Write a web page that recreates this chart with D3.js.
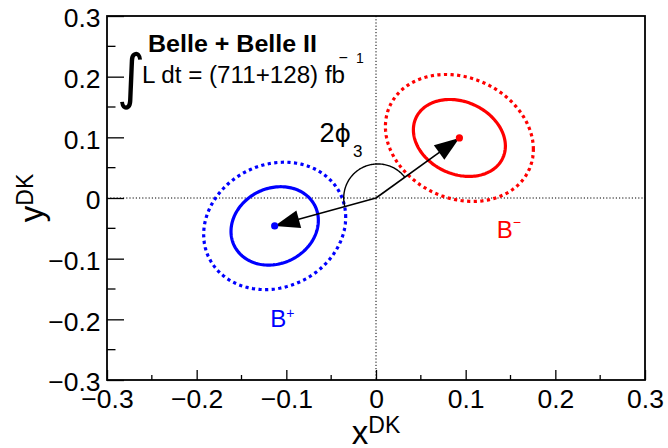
<!DOCTYPE html>
<html><head><meta charset="utf-8">
<script src="https://cdn.jsdelivr.net/npm/d3@7"></script>
<style>body{margin:0;background:#fff} svg{display:block}</style>
</head><body>
<script>
// ---- data ----
const xTickValues = [-0.3, -0.2, -0.1, 0, 0.1, 0.2, 0.3];
const yTickValues = [-0.3, -0.2, -0.1, 0, 0.1, 0.2, 0.3];
const groupNames = ["B+", "B\u2212"];
const centerX = [-0.113, 0.093];
const centerY = [-0.046, 0.099];
const groupColors = ["#0000ff", "#ff0000"];
// 1 sigma contours
const sig1X = [0.0487, 0.0513];
const sig1Y = [0.0646, 0.0634];
const rho1 = [0.14, -0.21];
// 2 sigma contours
const sig2X = [0.0792, 0.0825];
const sig2Y = [0.105, 0.1046];
const rho2 = [0.135, -0.18];

// ---- layout ----
const W = 668, H = 448;
const L = 107, R = 645, T = 16, B = 380;
const FONT = "'Liberation Sans', Arial, Helvetica, sans-serif";

const svg = d3.select("body").append("svg").attr("width", W).attr("height", H)
  .style("font-family", FONT);

const x = d3.scaleLinear().domain([-0.3, 0.3]).range([L, R]);
const y = d3.scaleLinear().domain([-0.3, 0.3]).range([B, T]);
const fmt = v => (v < 0 ? "\u2212" : "") + (v === 0 ? "0" : Math.abs(v).toFixed(1));

// minor ticks
const minorX = x.ticks(12).filter(v => !xTickValues.some(t => Math.abs(t - v) < 1e-9));
const minorY = y.ticks(12).filter(v => !yTickValues.some(t => Math.abs(t - v) < 1e-9));

// axes
const gx = svg.append("g").attr("transform", `translate(0,${B})`)
  .call(d3.axisBottom(x).tickValues(xTickValues).tickSize(-10).tickPadding(9).tickFormat(fmt));
gx.select(".domain").remove();
gx.selectAll("line").attr("stroke", "#000").attr("stroke-width", 1.3);
gx.selectAll("text").attr("font-size", 26.5).attr("font-family", FONT).attr("fill", "#000");
svg.append("g").selectAll("line").data(minorX).join("line")
  .attr("x1", d => x(d)).attr("x2", d => x(d)).attr("y1", B).attr("y2", B - 5)
  .attr("stroke", "#000").attr("stroke-width", 1.3);

const gy = svg.append("g").attr("transform", `translate(${L},0)`)
  .call(d3.axisLeft(y).tickValues(yTickValues).tickSize(-17).tickPadding(6.5).tickFormat(fmt));
gy.select(".domain").remove();
gy.selectAll("line").attr("stroke", "#000").attr("stroke-width", 1.3);
gy.selectAll("text").attr("font-size", 26.5).attr("font-family", FONT).attr("fill", "#000").attr("dy", "0.41em");
svg.append("g").selectAll("line").data(minorY).join("line")
  .attr("y1", d => y(d)).attr("y2", d => y(d)).attr("x1", L).attr("x2", L + 8.5)
  .attr("stroke", "#000").attr("stroke-width", 1.3);

// zero lines
svg.append("line").attr("x1", x(0)).attr("x2", x(0)).attr("y1", T).attr("y2", B)
  .attr("stroke", "#000").attr("stroke-width", 1).attr("stroke-dasharray", "1.2 2");
svg.append("line").attr("x1", L).attr("x2", R).attr("y1", y(0)).attr("y2", y(0))
  .attr("stroke", "#000").attr("stroke-width", 1).attr("stroke-dasharray", "1.2 2");

// frame
svg.append("rect").attr("x", L).attr("y", T).attr("width", R - L).attr("height", B - T)
  .attr("fill", "none").attr("stroke", "#000").attr("stroke-width", 1.8);

// contours
const line = d3.line().x(d => x(d[0])).y(d => y(d[1])).curve(d3.curveLinearClosed);
function contour(cx, cy, sx, sy, r) {
  const pts = [];
  const n = 180;
  for (let i = 0; i < n; i++) {
    const t = 2 * Math.PI * i / n;
    pts.push([cx + sx * Math.cos(t), cy + sy * (r * Math.cos(t) + Math.sqrt(1 - r * r) * Math.sin(t))]);
  }
  return pts;
}
groupNames.forEach((g, i) => {
  svg.append("path").attr("d", line(contour(centerX[i], centerY[i], sig2X[i], sig2Y[i], rho2[i])))
    .attr("fill", "none").attr("stroke", groupColors[i]).attr("stroke-width", 3.2)
    .attr("stroke-dasharray", "3.2 3.4");
  svg.append("path").attr("d", line(contour(centerX[i], centerY[i], sig1X[i], sig1Y[i], rho1[i])))
    .attr("fill", "none").attr("stroke", groupColors[i]).attr("stroke-width", 3.2);
});

// arrows from origin to the central values
const ox = x(0), oy = y(0);
groupNames.forEach((g, i) => {
  const tx = x(centerX[i]), ty = y(centerY[i]);
  const dx = tx - ox, dy = ty - oy, len = Math.hypot(dx, dy);
  const ux = dx / len, uy = dy / len;
  const hl = 25, hw = 9;
  const bx = tx - ux * hl, by = ty - uy * hl;
  svg.append("line").attr("x1", ox).attr("y1", oy).attr("x2", bx + ux * 2).attr("y2", by + uy * 2)
    .attr("stroke", "#000").attr("stroke-width", 1.6);
  svg.append("path")
    .attr("d", `M${tx},${ty}L${bx - uy * hw},${by + ux * hw}L${bx + uy * hw},${by - ux * hw}Z`)
    .attr("fill", "#000");
});

// angle arc between the two vectors
{
  const cxp = x(0.002), cyp = y(0);
  const r = x(0.038) - x(0);
  const ends = [1, 0].map(i => {
    const tx = x(centerX[i]), ty = y(centerY[i]);
    const len = Math.hypot(tx - ox, ty - oy);
    const ux = (tx - ox) / len, uy = (ty - oy) / len;
    const cx = cxp - ox, cy = cyp - oy;
    const dc = ux * cx + uy * cy;
    const t = dc + Math.sqrt(dc * dc - (cx * cx + cy * cy) + r * r);
    const px = ox + t * ux, py = oy + t * uy;
    return Math.atan2(py - cyp, px - cxp);
  });
  let a0 = ends[0], a1 = ends[1];
  while (a1 > a0) a1 -= 2 * Math.PI;
  const pts = d3.range(0, 101).map(k => {
    const a = a0 + (a1 - a0) * k / 100;
    return [cxp + r * Math.cos(a), cyp + r * Math.sin(a)];
  });
  svg.append("path").attr("d", d3.line()(pts)).attr("fill", "none")
    .attr("stroke", "#000").attr("stroke-width", 1.4);
}

// central value dots
groupNames.forEach((g, i) => {
  svg.append("circle").attr("cx", x(centerX[i])).attr("cy", y(centerY[i])).attr("r", 3.6)
    .attr("fill", groupColors[i]);
});

// group labels
const bp = svg.append("text").attr("x", x(-0.118)).attr("y", 326.7).attr("fill", groupColors[0]).attr("font-size", 24);
bp.append("tspan").text("B");
bp.append("tspan").attr("font-size", 14).attr("dy", -9).text("+");
const bm = svg.append("text").attr("x", x(0.1346)).attr("y", 238.3).attr("fill", groupColors[1]).attr("font-size", 24);
bm.append("tspan").text("B");
bm.append("tspan").attr("font-size", 14).attr("dy", -11).attr("dx", 0).text("\u2212");

// 2phi3
const ph = svg.append("text").attr("x", 319.5).attr("y", 141.5).attr("font-size", 27).attr("fill", "#000");
ph.append("tspan").text("2");
ph.append("tspan").attr("font-family", "'DejaVu Sans', sans-serif").attr("font-size", 25).text("\u03D5");
ph.append("tspan").attr("font-size", 17).attr("dy", 15).attr("dx", 2).text("3");

// experiment label
svg.append("text").attr("x", 148).attr("y", 52.3).attr("font-size", 23.5).attr("font-weight", "bold")
  .attr("textLength", 169).attr("lengthAdjust", "spacingAndGlyphs").text("Belle + Belle II");
svg.append("text").attr("x", 0).attr("y", 0).attr("font-size", 60)
  .attr("font-family", "'DejaVu Sans', sans-serif")
  .attr("transform", "translate(117,97) scale(0.9,1)").text("\u222B");
const lum = svg.append("text").attr("x", 142).attr("y", 83.3).attr("font-size", 24.2);
lum.append("tspan").text("L dt = (711+128) fb");
lum.append("tspan").attr("x", 338.5).attr("y", 63.3).attr("font-size", 16).text("\u2212");
lum.append("tspan").attr("x", 356).attr("y", 63.3).attr("font-size", 14).text("1");

// axis titles
const xt = svg.append("text").attr("x", x(0)).attr("y", 443.7).attr("text-anchor", "middle").attr("font-size", 33);
xt.append("tspan").text("x");
xt.append("tspan").attr("font-size", 23).attr("dy", -10.4).text("DK");
const yt = svg.append("text").attr("transform", `translate(43,${y(0)}) rotate(-90)`).attr("text-anchor", "middle").attr("font-size", 33);
yt.append("tspan").text("y");
yt.append("tspan").attr("font-size", 23).attr("dy", -10.4).text("DK");
</script>
</body></html>
